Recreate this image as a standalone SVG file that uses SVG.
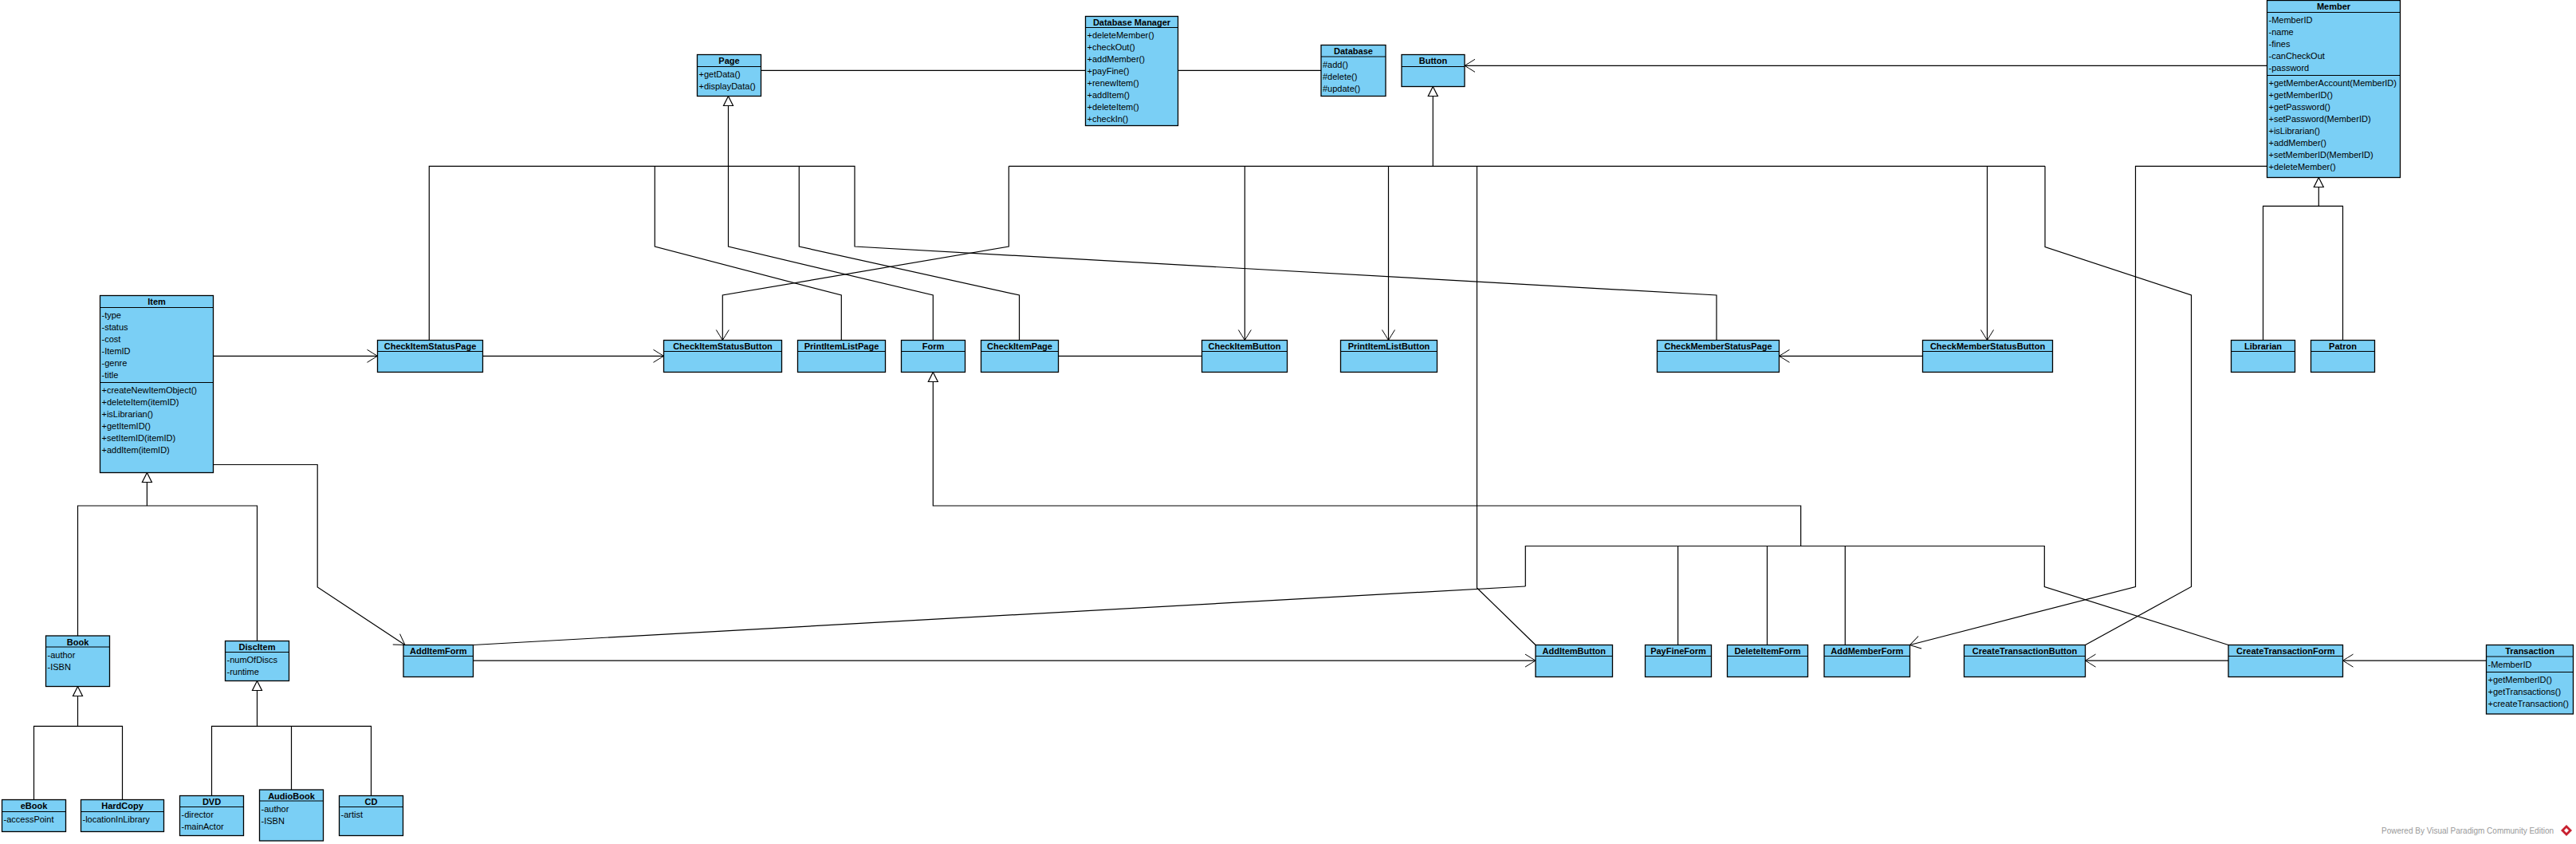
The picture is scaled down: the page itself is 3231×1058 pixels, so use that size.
<svg xmlns="http://www.w3.org/2000/svg" width="3231" height="1058" viewBox="0 0 3231 1058">
<style>
.box{fill:#7ACFF5;stroke:#000;stroke-width:1.3}
.sep{stroke:#000;stroke-width:1.1}
.t{font-family:"Liberation Sans",Arial,sans-serif;font-size:11px;fill:#000}
.h{font-weight:bold;text-anchor:middle}
.c{fill:none;stroke:#000;stroke-width:1.2}
.a{fill:none;stroke:#000;stroke-width:1.2;marker-end:url(#open)}
.g{fill:#fff;stroke:#000;stroke-width:1.2}
.wm{font-family:"Liberation Sans",Arial,sans-serif;font-size:10px;fill:#999}
</style>
<defs>
<marker id="open" viewBox="0 0 16 20" markerWidth="16" markerHeight="20" refX="14" refY="10" orient="auto" markerUnits="userSpaceOnUse">
<path d="M1,2 Q9,7 14,10 Q9,13 1,18" fill="none" stroke="#000" stroke-width="1"/>
</marker>
</defs>
<rect width="3231" height="1058" fill="#fff"/>

<g id="connectors">
<!-- simple associations -->
<path class="c" d="M954.5,88.3 H1361.5"/>
<path class="c" d="M1477.5,88.3 H1657"/>
<path class="a" d="M2843.5,82.3 H1837"/>
<path class="a" d="M2843.5,208.3 H2678.5 V735.5 L2395.5,808.5"/>
<path class="a" d="M267.5,446.3 H473.5"/>
<path class="a" d="M605.5,446.3 H832.5"/>
<path class="c" d="M1327.5,446.3 H1507.5"/>
<path class="a" d="M2411.5,446.3 H2231.5"/>
<path class="a" d="M267.5,582.5 H398.2 V736 L508,808.5"/>
<path class="a" d="M593.5,828.1 H1926"/>
<path class="a" d="M2795,828.1 H2615.5"/>
<path class="a" d="M3118.5,828.1 H2938.5"/>

<!-- Page generalization -->
<polygon class="g" points="913.5,120.5 907.5,132.5 919.5,132.5"/>
<path class="c" d="M913.5,132.5 V309 L1170.3,370 V426.5"/>
<path class="c" d="M538.3,426.5 V208.3 H1072 V309 L2153,370 V426.5"/>
<path class="c" d="M821.3,208.3 V309 L1055.3,370 V426.5"/>
<path class="c" d="M1002.3,208.3 V309 L1278.5,370 V426.5"/>

<!-- Button generalization -->
<polygon class="g" points="1797.3,108.5 1791.3,120.5 1803.3,120.5"/>
<path class="c" d="M1797.3,120.5 V208.3"/>
<path class="c" d="M1265.3,208.3 H2565"/>
<path class="a" d="M1265.3,208.3 V309 L906.3,370 V426.5"/>
<path class="a" d="M1561.3,208.3 V426.5"/>
<path class="a" d="M1741.5,208.3 V426.5"/>
<path class="c" d="M1852.5,208.3 V737 L1926,808.5"/>
<path class="a" d="M2492.5,208.3 V426.5"/>
<path class="c" d="M2565,208.3 V309.5 L2748.5,370 V735.5 L2615.5,808.5"/>

<!-- Member generalization -->
<polygon class="g" points="2908.3,222.5 2902.3,234.5 2914.3,234.5"/>
<path class="c" d="M2908.3,234.5 V258.3 M2838.5,426.5 V258.3 H2938.5 V426.5"/>

<!-- Item generalization -->
<polygon class="g" points="184.4,592.5 178.4,604.5 190.4,604.5"/>
<path class="c" d="M184.4,604.5 V634 M97.5,797 V634 H322.5 V803.5"/>
<polygon class="g" points="97.5,860.5 91.5,872.5 103.5,872.5"/>
<path class="c" d="M97.5,872.5 V910.3 M42.5,1002.5 V910.3 H153.5 V1002.5"/>
<polygon class="g" points="322.5,853.5 316.5,865.5 328.5,865.5"/>
<path class="c" d="M322.5,865.5 V910.3 M265.5,997.5 V910.3 H465.5 V997.5 M365.5,910.3 V990"/>

<!-- Form generalization -->
<polygon class="g" points="1170.3,466.5 1164.3,478.5 1176.3,478.5"/>
<path class="c" d="M1170.3,478.5 V634 H2258.7 V684.5"/>
<path class="c" d="M1913.3,735 V684.5 H2564.3 V735.5 L2795,808.5"/>
<path class="c" d="M1913.3,735 L593.5,808.5"/>
<path class="c" d="M2104.6,684.5 V808.5 M2216.5,684.5 V808.5 M2314.3,684.5 V808.5"/>
</g>

<g id="Page">
<rect class="box" x="874.5" y="68.5" width="80" height="52"/>
<line class="sep" x1="874.5" y1="83.5" x2="954.5" y2="83.5"/>
<text class="t h" x="914.5" y="80">Page</text>
<text class="t" x="876.5" y="97">+getData()</text>
<text class="t" x="876.5" y="112">+displayData()</text>
</g>

<g id="DatabaseManager">
<rect class="box" x="1361.5" y="20.5" width="116" height="137"/>
<line class="sep" x1="1361.5" y1="34.5" x2="1477.5" y2="34.5"/>
<text class="t h" x="1419.5" y="31.5">Database Manager</text>
<text class="t" x="1363.5" y="48">+deleteMember()</text>
<text class="t" x="1363.5" y="63">+checkOut()</text>
<text class="t" x="1363.5" y="78">+addMember()</text>
<text class="t" x="1363.5" y="93">+payFine()</text>
<text class="t" x="1363.5" y="108">+renewItem()</text>
<text class="t" x="1363.5" y="123">+addItem()</text>
<text class="t" x="1363.5" y="138">+deleteItem()</text>
<text class="t" x="1363.5" y="153">+checkIn()</text>
</g>

<g id="Database">
<rect class="box" x="1657" y="56.5" width="81" height="64"/>
<line class="sep" x1="1657" y1="71" x2="1738" y2="71"/>
<text class="t h" x="1697.5" y="67.5">Database</text>
<text class="t" x="1659" y="84.5">#add()</text>
<text class="t" x="1659" y="99.5">#delete()</text>
<text class="t" x="1659" y="114.5">#update()</text>
</g>

<g id="Button">
<rect class="box" x="1758" y="68.5" width="79" height="40"/>
<line class="sep" x1="1758" y1="83.5" x2="1837" y2="83.5"/>
<text class="t h" x="1797.5" y="80">Button</text>
</g>

<g id="Member">
<rect class="box" x="2843.5" y="0.5" width="167" height="222"/>
<line class="sep" x1="2843.5" y1="15.5" x2="3010.5" y2="15.5"/>
<line class="sep" x1="2843.5" y1="94.5" x2="3010.5" y2="94.5"/>
<text class="t h" x="2927" y="12">Member</text>
<text class="t" x="2845.5" y="29">-MemberID</text>
<text class="t" x="2845.5" y="44">-name</text>
<text class="t" x="2845.5" y="59">-fines</text>
<text class="t" x="2845.5" y="74">-canCheckOut</text>
<text class="t" x="2845.5" y="89">-password</text>
<text class="t" x="2845.5" y="108">+getMemberAccount(MemberID)</text>
<text class="t" x="2845.5" y="123">+getMemberID()</text>
<text class="t" x="2845.5" y="138">+getPassword()</text>
<text class="t" x="2845.5" y="153">+setPassword(MemberID)</text>
<text class="t" x="2845.5" y="168">+isLibrarian()</text>
<text class="t" x="2845.5" y="183">+addMember()</text>
<text class="t" x="2845.5" y="198">+setMemberID(MemberID)</text>
<text class="t" x="2845.5" y="213">+deleteMember()</text>
</g>

<g id="Item">
<rect class="box" x="125.5" y="370.5" width="142" height="222"/>
<line class="sep" x1="125.5" y1="385.5" x2="267.5" y2="385.5"/>
<line class="sep" x1="125.5" y1="479.5" x2="267.5" y2="479.5"/>
<text class="t h" x="196.5" y="382">Item</text>
<text class="t" x="127.5" y="399">-type</text>
<text class="t" x="127.5" y="414">-status</text>
<text class="t" x="127.5" y="429">-cost</text>
<text class="t" x="127.5" y="444">-ItemID</text>
<text class="t" x="127.5" y="459">-genre</text>
<text class="t" x="127.5" y="474">-title</text>
<text class="t" x="127.5" y="493">+createNewItemObject()</text>
<text class="t" x="127.5" y="508">+deleteItem(itemID)</text>
<text class="t" x="127.5" y="523">+isLibrarian()</text>
<text class="t" x="127.5" y="538">+getItemID()</text>
<text class="t" x="127.5" y="553">+setItemID(itemID)</text>
<text class="t" x="127.5" y="568">+addItem(itemID)</text>
</g>

<g id="CheckItemStatusPage">
<rect class="box" x="473.5" y="426.5" width="132" height="40"/>
<line class="sep" x1="473.5" y1="440.5" x2="605.5" y2="440.5"/>
<text class="t h" x="539.5" y="438">CheckItemStatusPage</text>
</g>
<g id="CheckItemStatusButton">
<rect class="box" x="832.5" y="426.5" width="148" height="40"/>
<line class="sep" x1="832.5" y1="440.5" x2="980.5" y2="440.5"/>
<text class="t h" x="906.5" y="438">CheckItemStatusButton</text>
</g>
<g id="PrintItemListPage">
<rect class="box" x="1000.5" y="426.5" width="110" height="40"/>
<line class="sep" x1="1000.5" y1="440.5" x2="1110.5" y2="440.5"/>
<text class="t h" x="1055.5" y="438">PrintItemListPage</text>
</g>
<g id="Form">
<rect class="box" x="1130.5" y="426.5" width="80" height="40"/>
<line class="sep" x1="1130.5" y1="440.5" x2="1210.5" y2="440.5"/>
<text class="t h" x="1170.5" y="438">Form</text>
</g>
<g id="CheckItemPage">
<rect class="box" x="1230.5" y="426.5" width="97" height="40"/>
<line class="sep" x1="1230.5" y1="440.5" x2="1327.5" y2="440.5"/>
<text class="t h" x="1279" y="438">CheckItemPage</text>
</g>
<g id="CheckItemButton">
<rect class="box" x="1507.5" y="426.5" width="107" height="40"/>
<line class="sep" x1="1507.5" y1="440.5" x2="1614.5" y2="440.5"/>
<text class="t h" x="1561" y="438">CheckItemButton</text>
</g>
<g id="PrintItemListButton">
<rect class="box" x="1681.5" y="426.5" width="121" height="40"/>
<line class="sep" x1="1681.5" y1="440.5" x2="1802.5" y2="440.5"/>
<text class="t h" x="1742" y="438">PrintItemListButton</text>
</g>
<g id="CheckMemberStatusPage">
<rect class="box" x="2078.5" y="426.5" width="153" height="40"/>
<line class="sep" x1="2078.5" y1="440.5" x2="2231.5" y2="440.5"/>
<text class="t h" x="2155" y="438">CheckMemberStatusPage</text>
</g>
<g id="CheckMemberStatusButton">
<rect class="box" x="2411.5" y="426.5" width="163" height="40"/>
<line class="sep" x1="2411.5" y1="440.5" x2="2574.5" y2="440.5"/>
<text class="t h" x="2493" y="438">CheckMemberStatusButton</text>
</g>
<g id="Librarian">
<rect class="box" x="2798.5" y="426.5" width="80" height="40"/>
<line class="sep" x1="2798.5" y1="440.5" x2="2878.5" y2="440.5"/>
<text class="t h" x="2838.5" y="438">Librarian</text>
</g>
<g id="Patron">
<rect class="box" x="2898.5" y="426.5" width="80" height="40"/>
<line class="sep" x1="2898.5" y1="440.5" x2="2978.5" y2="440.5"/>
<text class="t h" x="2938.5" y="438">Patron</text>
</g>

<g id="Book">
<rect class="box" x="57.5" y="797" width="80" height="63.5"/>
<line class="sep" x1="57.5" y1="811" x2="137.5" y2="811"/>
<text class="t h" x="97.5" y="808.5">Book</text>
<text class="t" x="59.5" y="824.5">-author</text>
<text class="t" x="59.5" y="839.5">-ISBN</text>
</g>
<g id="DiscItem">
<rect class="box" x="282.5" y="803.5" width="80" height="50"/>
<line class="sep" x1="282.5" y1="817.5" x2="362.5" y2="817.5"/>
<text class="t h" x="322.5" y="815">DiscItem</text>
<text class="t" x="284.5" y="831">-numOfDiscs</text>
<text class="t" x="284.5" y="846">-runtime</text>
</g>
<g id="eBook">
<rect class="box" x="2.5" y="1002.5" width="80" height="40"/>
<line class="sep" x1="2.5" y1="1017.5" x2="82.5" y2="1017.5"/>
<text class="t h" x="42.5" y="1014">eBook</text>
<text class="t" x="4.5" y="1030.5">-accessPoint</text>
</g>
<g id="HardCopy">
<rect class="box" x="101.5" y="1002.5" width="104" height="40"/>
<line class="sep" x1="101.5" y1="1017.5" x2="205.5" y2="1017.5"/>
<text class="t h" x="153.5" y="1014">HardCopy</text>
<text class="t" x="103.5" y="1030.5">-locationInLibrary</text>
</g>
<g id="DVD">
<rect class="box" x="225.5" y="997.5" width="80" height="50"/>
<line class="sep" x1="225.5" y1="1011.5" x2="305.5" y2="1011.5"/>
<text class="t h" x="265.5" y="1009">DVD</text>
<text class="t" x="227.5" y="1025">-director</text>
<text class="t" x="227.5" y="1040">-mainActor</text>
</g>
<g id="AudioBook">
<rect class="box" x="325.5" y="990" width="80" height="64"/>
<line class="sep" x1="325.5" y1="1004" x2="405.5" y2="1004"/>
<text class="t h" x="365.5" y="1001.5">AudioBook</text>
<text class="t" x="327.5" y="1017.5">-author</text>
<text class="t" x="327.5" y="1032.5">-ISBN</text>
</g>
<g id="CD">
<rect class="box" x="425.5" y="997.5" width="80" height="50"/>
<line class="sep" x1="425.5" y1="1011.5" x2="505.5" y2="1011.5"/>
<text class="t h" x="465.5" y="1009">CD</text>
<text class="t" x="427.5" y="1025">-artist</text>
</g>

<g id="AddItemForm">
<rect class="box" x="506" y="808.5" width="87.5" height="40"/>
<line class="sep" x1="506" y1="822.5" x2="593.5" y2="822.5"/>
<text class="t h" x="549.8" y="820">AddItemForm</text>
</g>
<g id="AddItemButton">
<rect class="box" x="1926" y="808.5" width="96.5" height="40"/>
<line class="sep" x1="1926" y1="822.5" x2="2022.5" y2="822.5"/>
<text class="t h" x="1974.3" y="820">AddItemButton</text>
</g>
<g id="PayFineForm">
<rect class="box" x="2063.5" y="808.5" width="83" height="40"/>
<line class="sep" x1="2063.5" y1="822.5" x2="2146.5" y2="822.5"/>
<text class="t h" x="2105" y="820">PayFineForm</text>
</g>
<g id="DeleteItemForm">
<rect class="box" x="2166.5" y="808.5" width="101" height="40"/>
<line class="sep" x1="2166.5" y1="822.5" x2="2267.5" y2="822.5"/>
<text class="t h" x="2217" y="820">DeleteItemForm</text>
</g>
<g id="AddMemberForm">
<rect class="box" x="2288" y="808.5" width="107.5" height="40"/>
<line class="sep" x1="2288" y1="822.5" x2="2395.5" y2="822.5"/>
<text class="t h" x="2341.8" y="820">AddMemberForm</text>
</g>
<g id="CreateTransactionButton">
<rect class="box" x="2463.5" y="808.5" width="152" height="40"/>
<line class="sep" x1="2463.5" y1="822.5" x2="2615.5" y2="822.5"/>
<text class="t h" x="2539.5" y="820">CreateTransactionButton</text>
</g>
<g id="CreateTransactionForm">
<rect class="box" x="2795" y="808.5" width="143.5" height="40"/>
<line class="sep" x1="2795" y1="822.5" x2="2938.5" y2="822.5"/>
<text class="t h" x="2866.8" y="820">CreateTransactionForm</text>
</g>
<g id="Transaction">
<rect class="box" x="3118.5" y="808.5" width="109" height="86.5"/>
<line class="sep" x1="3118.5" y1="823" x2="3227.5" y2="823"/>
<line class="sep" x1="3118.5" y1="842.5" x2="3227.5" y2="842.5"/>
<text class="t h" x="3173" y="820">Transaction</text>
<text class="t" x="3120.5" y="836.5">-MemberID</text>
<text class="t" x="3120.5" y="856">+getMemberID()</text>
<text class="t" x="3120.5" y="871">+getTransactions()</text>
<text class="t" x="3120.5" y="886">+createTransaction()</text>
</g>

<g id="watermark">
<text class="wm" x="2987" y="1045">Powered By Visual Paradigm Community Edition</text>
<path d="M3219,1034 L3226,1041 L3219,1048 L3212,1041 Z" fill="#c8202f"/>
<path d="M3219,1038 L3222,1041 L3219,1044 L3216,1041 Z" fill="#fff"/>
</g>
</svg>
